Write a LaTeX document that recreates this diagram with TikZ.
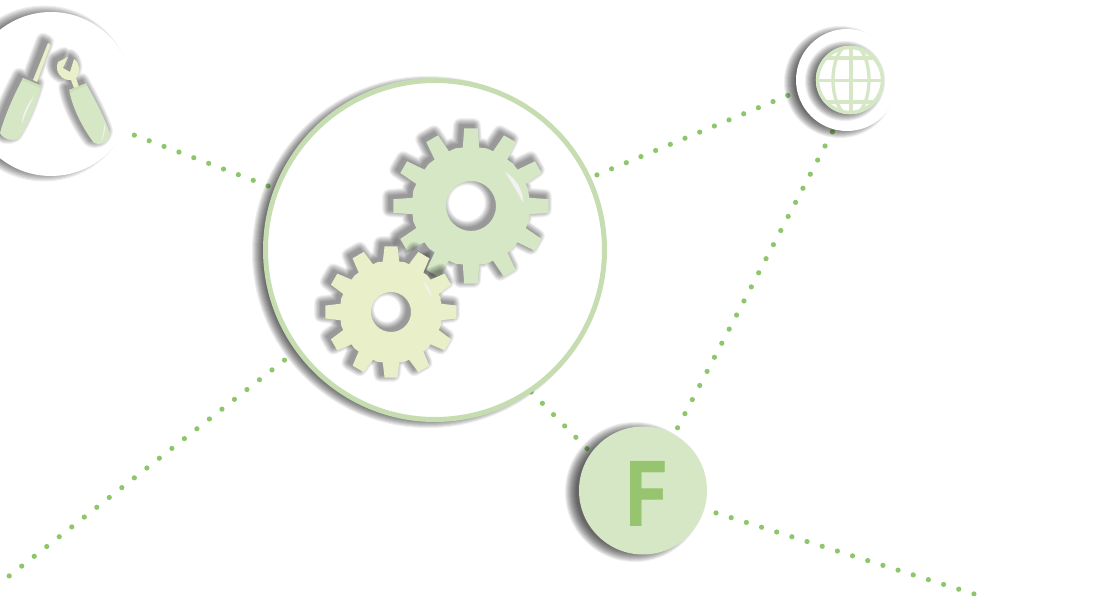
\documentclass[tikz,border=0pt]{standalone}
\usepackage{fontspec}
\newfontfamily\ffont{PT Sans}[FakeStretch=.9]
\definecolor{dotc}{HTML}{8DC66B}
\definecolor{ringc}{HTML}{C5DDB0}
\definecolor{gearA}{HTML}{D5E7C5}
\definecolor{gearB}{HTML}{E9EFC9}
\definecolor{collar}{HTML}{C9E0B5}
\definecolor{fc}{HTML}{96C46F}
\definecolor{shine}{HTML}{F2F2F2}
\pgfdeclarelayer{back}\pgfdeclarelayer{mid}
\pgfsetlayers{back,mid,main}
\tikzset{
  disc/.style={circle,inner sep=0pt,outer sep=0pt,fill=white,minimum size=#1},
  dotline/.style={draw=dotc,line width=5.2pt,line cap=round,dash pattern=on 0pt off 15.9pt},
  softlayer/.style={black,line join=round,even odd rule,fill},
}
\newcommand{\softdisc}[4]{%
  \foreach \i in {1,...,12}{\fill[black,opacity=.07] (#1,#2) circle ({#3+#4*(\i/6-1)});}}
\newcommand{\gearshape}[5]{%
  (-15:#1) \foreach \a in {0,30,...,330}{
    -- ({\a-#3}:#1) -- ({\a-#4}:#2) -- ({\a+#4}:#2) -- ({\a+#3}:#1) -- ({\a+15}:{#1*1.012})
  } -- cycle (0,0) circle (#5)}
\newcommand{\softpath}[1]{%
  \foreach \i in {1,...,12}{\begin{scope}[transparency group,opacity=.04]\draw[softlayer,line width=\i*1.2pt] #1;\end{scope}}}
\newcommand{\gear}[8]{%
  \begin{scope}[shift={(#1-4,#2-3)}]\softpath{\gearshape{#3}{#4}{#5}{#6}{#7}}\end{scope}
  \begin{scope}[shift={(#1,#2)}]\fill[#8,even odd rule] \gearshape{#3}{#4}{#5}{#6}{#7};\end{scope}}
\begin{document}
\begin{tikzpicture}[x=1pt,y=-1pt]
\useasboundingbox (0,0) rectangle (1119,596);
\begin{pgfonlayer}{back}
  \fill[white] (0,0) rectangle (1119,596);
\end{pgfonlayer}
% shadows of the discs
\begin{pgfonlayer}{mid}
  \softdisc{44}{93.5}{81}{7}
  \softdisc{428}{252}{170}{6}
  \softdisc{840}{82}{50}{6}
  \softdisc{635}{492}{64}{6}
\end{pgfonlayer}
% discs
\node[disc=164pt] (tools) at (51,94) {};
\node[disc=339pt,draw=ringc,line width=5pt] (hub) at (435,250) {};
\node[disc=102pt] (globe) at (847,80) {};
\node[disc=128pt,fill=gearA] (fnode) at (643,490.5) {};
\node[font=\ffont\bfseries\fontsize{93}{93}\selectfont,text=fc,inner sep=0pt] (ftext) at (646.5,493.5) {F};
\coordinate (bl) at (-10,591);
\coordinate (br) at (990,599);
% connectors
\begin{pgfonlayer}{back}
  \draw[dotline,shorten <=11pt] (tools.-27.6) -- (hub.159.2);
  \draw[dotline,shorten <=9pt] (hub.25.8) -- (globe.193.5);
  \draw[dotline,shorten <=3pt] (globe.255.7) -- (fnode.61.5);
  \draw[dotline,shorten <=6pt] (fnode.144.2) -- (hub.-56.6);
  \draw[dotline,shorten <=17pt] (hub.216.2) -- (bl);
  \draw[dotline,shorten <=12.4pt] (fnode.-17) -- (br);
\end{pgfonlayer}
% gears
\gear{471}{206}{59}{78}{8}{5}{25}{gearA}
\fill[shine] (505,172) .. controls (516,178) and (523,190) .. (523.5,203) .. controls (516,190) and (511,181) .. cycle;
\gear{391}{312}{51}{66}{9.3}{5.6}{20}{gearB}
\fill[shine] (422.7,280.7) .. controls (428,285) and (431,291) .. (432,297.7) .. controls (428,291) and (425,286) .. cycle;
% tool shadows
\begin{scope}[shift={(-4,-3)}]
  \softpath{(47,43) -- (51,45) -- (38,82) -- (33,80) -- cycle
    (23,78) -- (41.5,86) .. controls (36,105) and (28,125) .. (19,138) .. controls (12,142) and (4,140) .. (0,133) .. controls (5,115) and (14,95) .. cycle
    (69.3,90) -- (86,83.3) .. controls (95,100) and (105,118) .. (110,134) .. controls (108,143) and (100,146) .. (94,143) .. controls (84,130) and (72,108) .. cycle
    (68,57) -- (63,68) -- (70,72) -- (74,59) .. controls (80,63) and (81,72) .. (76,78) -- (79,85) -- (74,87) -- (71,80) .. controls (62,81) and (54,72) .. (58,62) -- cycle}
\end{scope}
% screwdriver
\fill[gearB] (48,43) -- (50.5,45) -- (37,82) -- (33,80) -- cycle;
\fill[gearA] (23,78) -- (41.5,86) .. controls (36,105) and (28,125) .. (19,138) .. controls (12,142) and (4,140) .. (0,133) .. controls (5,115) and (14,95) .. cycle;
\fill[collar] (23,78) -- (41.5,86) -- (40.5,88.5) .. controls (34,85) and (28,82) .. (22,80.5) -- cycle;
\fill[shine] (34,96) .. controls (28,103) and (22,114) .. (22,124) .. controls (25,114) and (30,104) .. cycle;
% wrench
\fill[gearB] (68,57) -- (63,68) -- (70,72) -- (74,59) .. controls (80,63) and (81,72) .. (76,78) -- (79,87) -- (74,88) -- (71,80) .. controls (62,81) and (54,72) .. (58,62) -- cycle;
\fill[gearA] (69.3,90) -- (86,83.3) .. controls (95,100) and (105,118) .. (110,134) .. controls (108,143) and (100,146) .. (94,143) .. controls (84,130) and (72,108) .. cycle;
\fill[collar] (69.3,90) -- (86,83.3) -- (87,85.5) .. controls (81,87) and (75,90) .. (70.5,93) -- cycle;
\fill[shine] (105,122) .. controls (105.5,130) and (104,136) .. (101.5,142) .. controls (103,135) and (104,128) .. cycle;
% globe
\softdisc{845}{81}{34}{6}
\fill[white] (850,80) circle (34);
\begin{scope}
  \clip (850,80) circle (34);
  \draw[gearA,line width=3.3pt] (816,58) -- (884,58) (816,80.5) -- (884,80.5) (816,102) -- (884,102) (851,46) -- (851,114);
  \draw[gearA,line width=3.3pt] (851,80) ellipse (18 and 36);
\end{scope}
\draw[gearA,line width=3.6pt] (850,80) circle (32.5);
\end{tikzpicture}
\end{document}
